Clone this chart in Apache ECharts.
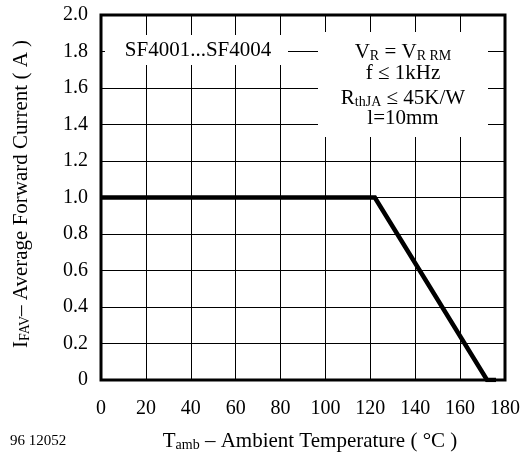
<!DOCTYPE html>
<html>
<head>
<meta charset="utf-8">
<script src="https://cdn.jsdelivr.net/npm/echarts@6/dist/echarts.min.js"></script>
<style>
html,body{margin:0;padding:0;background:#fff;}
#chart{width:530px;height:452px;}
</style>
</head>
<body>
<div id="chart"></div>
<script>
// Data
var tempPoints = [0, 122, 172, 176];          // T_amb (°C)
var currentPoints = [1.0, 1.0, 0, 0];         // I_FAV (A)
var xTicks = [0, 20, 40, 60, 80, 100, 120, 140, 160, 180];
var yTicks = [0, 0.2, 0.4, 0.6, 0.8, 1.0, 1.2, 1.4, 1.6, 1.8, 2.0];

var FONT = '"Liberation Serif", "Times New Roman", serif';
var seriesData = tempPoints.map(function (t, i) { return [t, currentPoints[i]]; });

var chart = echarts.init(document.getElementById('chart'), null, {renderer: 'canvas'});

var main = {fontSize: 21, fontFamily: FONT, color: '#000'};
var sub = {fontSize: 14, fontFamily: FONT, color: '#000', padding: [9, 0, 0, 0]};

function txt(x, y, text, extra) {
  return {
    type: 'text', x: x, y: y, z: 101,
    style: Object.assign({
      text: text,
      fontSize: 21, fontFamily: FONT, fill: '#000',
      align: 'center', verticalAlign: 'middle',
      textAlign: 'center', textVerticalAlign: 'middle',
      rich: {m: main, s: sub}
    }, extra || {})
  };
}

var option = {
  backgroundColor: '#fff',
  animation: false,
  grid: {
    left: 101, right: 25, top: 15, bottom: 72,
    show: true, borderColor: '#000', borderWidth: 3, backgroundColor: 'transparent'
  },
  xAxis: {
    type: 'value',
    min: xTicks[0], max: xTicks[xTicks.length - 1], interval: 20,
    axisLine: {show: false},
    axisTick: {show: false},
    splitLine: {show: true, lineStyle: {color: '#000', width: 1}},
    axisLabel: {color: '#000', fontSize: 20, fontFamily: FONT, margin: 19}
  },
  yAxis: {
    type: 'value',
    min: yTicks[0], max: yTicks[yTicks.length - 1], interval: 0.2,
    axisLine: {show: false},
    axisTick: {show: false},
    splitLine: {show: true, lineStyle: {color: '#000', width: 1}},
    axisLabel: {
      color: '#000', fontSize: 20, fontFamily: FONT, margin: 13,
      formatter: function (v) { return v === 0 ? '0' : v.toFixed(1); }
    }
  },
  series: [{
    type: 'line',
    data: seriesData,
    showSymbol: false,
    symbol: 'none',
    lineStyle: {color: '#000', width: 4.5, join: 'miter'},
    z: 5
  }],
  graphic: [
    {type: 'rect', z: 100, shape: {x: 105, y: 35, width: 183, height: 30}, style: {fill: '#fff'}},
    txt(198, 50, 'SF4001...SF4004'),
    {type: 'rect', z: 100, shape: {x: 318, y: 32, width: 170, height: 105}, style: {fill: '#fff'}},
    txt(403, 52, '{m|V}{s|R}{m| = V}{s|R RM}'),
    txt(403, 73, 'f ≤ 1kHz'),
    txt(403, 98, '{m|R}{s|thJA}{m| ≤ 45K/W}'),
    txt(403, 118, 'l=10mm'),
    txt(310, 441, '{m|T}{s|amb}{m| – Ambient Temperature ( °C )}'),
    Object.assign(txt(21, 194, '{m|I}{s|FAV}{m|– Average Forward Current ( A )}'), {rotation: Math.PI / 2}),
    txt(10, 441, '96 12052', {fontSize: 15, align: 'left', textAlign: 'left'})
  ]
};
chart.setOption(option);
</script>
</body>
</html>
